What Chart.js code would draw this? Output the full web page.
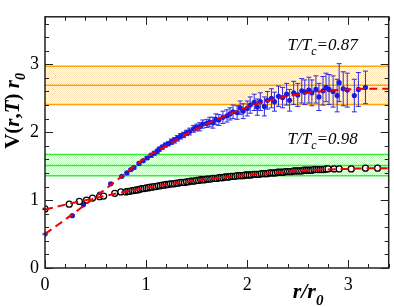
<!DOCTYPE html>
<html>
<head>
<meta charset="utf-8">
<script src="https://cdn.jsdelivr.net/npm/chart.js@4.4.1/dist/chart.umd.min.js"></script>
<style>
  html, body { margin: 0; padding: 0; background: #fff; }
  #wrap { width: 394px; height: 307px; }
</style>
</head>
<body>
<div id="wrap"><canvas id="pot"></canvas></div>
<script>
// T/Tc = 0.87 : lattice points (blue)
let blueR = [0.00, 0.27, 0.38, 0.54, 0.65, 0.76, 0.81, 0.85, 0.88, 0.93, 0.97, 1.01,
  1.05, 1.08, 1.11, 1.13, 1.16, 1.19, 1.22, 1.25, 1.28, 1.31, 1.34, 1.37, 1.40, 1.43,
  1.47, 1.50, 1.53, 1.56, 1.60, 1.63, 1.66, 1.69, 1.72, 1.76, 1.80, 1.83, 1.86, 1.90,
  1.93, 1.96, 2.00, 2.03, 2.07, 2.10, 2.13, 2.17, 2.20, 2.24, 2.27, 2.31, 2.35, 2.39,
  2.42, 2.46, 2.50, 2.54, 2.57, 2.61, 2.64, 2.68, 2.71, 2.75, 2.78, 2.81, 2.85, 2.89,
  2.91, 2.95, 2.99, 3.06, 3.10, 3.17];
let blueV = [0.50, 0.77, 0.93, 1.09, 1.24, 1.35, 1.40, 1.45, 1.48, 1.54, 1.58, 1.62,
  1.66, 1.69, 1.72, 1.75, 1.78, 1.81, 1.83, 1.86, 1.88, 1.91, 1.94, 1.96, 1.99, 2.01,
  2.05, 2.07, 2.08, 2.12, 2.13, 2.15, 2.14, 2.19, 2.18, 2.22, 2.24, 2.27, 2.30, 2.29,
  2.36, 2.31, 2.35, 2.40, 2.44, 2.37, 2.45, 2.38, 2.47, 2.50, 2.45, 2.53, 2.51, 2.56,
  2.47, 2.58, 2.55, 2.61, 2.59, 2.62, 2.58, 2.63, 2.52, 2.61, 2.66, 2.63, 2.60, 2.54,
  2.73, 2.64, 2.62, 2.54, 2.63, 2.66];
let blueErr = [0.01, 0.01, 0.01, 0.01, 0.01, 0.01, 0.015, 0.015, 0.02, 0.02, 0.02, 0.02,
  0.03, 0.03, 0.03, 0.03, 0.03, 0.03, 0.03, 0.04, 0.04, 0.04, 0.04, 0.04, 0.04, 0.05,
  0.05, 0.05, 0.06, 0.06, 0.06, 0.07, 0.08, 0.08, 0.08, 0.09, 0.09, 0.09, 0.10, 0.10,
  0.10, 0.11, 0.11, 0.12, 0.12, 0.12, 0.13, 0.14, 0.13, 0.14, 0.14, 0.15, 0.15, 0.16,
  0.16, 0.17, 0.17, 0.18, 0.18, 0.19, 0.19, 0.20, 0.20, 0.21, 0.21, 0.22, 0.23, 0.24,
  0.28, 0.25, 0.25, 0.24, 0.25, 0.24];

// T/Tc = 0.98 : lattice points (black, open)
let blackR = [0.00, 0.24, 0.34, 0.41, 0.47, 0.54, 0.58, 0.69, 0.75,
  0.80, 0.82, 0.84, 0.86, 0.88, 0.90, 0.92, 0.94, 0.96, 0.98, 1.00,
  1.02, 1.04, 1.06, 1.08, 1.10, 1.12, 1.14, 1.16, 1.18, 1.20,
  1.22, 1.24, 1.26, 1.28, 1.30, 1.32, 1.34, 1.36, 1.38, 1.40,
  1.42, 1.44, 1.46, 1.48, 1.50, 1.52, 1.54, 1.56, 1.58, 1.60,
  1.62, 1.64, 1.66, 1.68, 1.70, 1.72, 1.74, 1.76, 1.78, 1.80,
  1.82, 1.84, 1.86, 1.88, 1.90, 1.92, 1.94, 1.96, 1.98, 2.00,
  2.02, 2.04, 2.06, 2.08, 2.10, 2.12, 2.14, 2.16, 2.18, 2.20,
  2.22, 2.24, 2.26, 2.28, 2.30, 2.32, 2.34, 2.36, 2.38, 2.40,
  2.42, 2.44, 2.46, 2.48, 2.50, 2.52, 2.54, 2.56, 2.58, 2.60,
  2.62, 2.64, 2.66, 2.68, 2.70, 2.72, 2.74, 2.76, 2.78, 2.80,
  2.86, 2.91, 3.03, 3.17, 3.29];
let blackV = [0.87, 0.94, 0.98, 1.00, 1.03, 1.05, 1.06, 1.10, 1.12,
  1.12, 1.13, 1.13, 1.14, 1.14, 1.15, 1.15, 1.16, 1.17, 1.17, 1.18,
  1.18, 1.19, 1.19, 1.20, 1.20, 1.21, 1.21, 1.22, 1.22, 1.23,
  1.23, 1.24, 1.24, 1.24, 1.25, 1.25, 1.26, 1.26, 1.26, 1.27,
  1.27, 1.28, 1.28, 1.28, 1.29, 1.29, 1.30, 1.30, 1.30, 1.31,
  1.31, 1.31, 1.32, 1.32, 1.32, 1.33, 1.33, 1.33, 1.34, 1.34,
  1.34, 1.35, 1.35, 1.35, 1.36, 1.36, 1.36, 1.36, 1.37, 1.37,
  1.37, 1.37, 1.38, 1.38, 1.38, 1.38, 1.39, 1.39, 1.39, 1.39,
  1.40, 1.40, 1.40, 1.40, 1.41, 1.41, 1.41, 1.41, 1.42, 1.42,
  1.42, 1.42, 1.43, 1.43, 1.43, 1.43, 1.43, 1.44, 1.44, 1.44,
  1.44, 1.44, 1.45, 1.45, 1.45, 1.45, 1.45, 1.45, 1.46, 1.46,
  1.46, 1.46, 1.46, 1.47, 1.47];
let blackErr = [0.01, 0.01, 0.01, 0.01, 0.01, 0.01, 0.01, 0.01, 0.01,
  0.015, 0.015, 0.015, 0.015, 0.015, 0.015, 0.015, 0.015, 0.015, 0.015, 0.015,
  0.015, 0.015, 0.015, 0.015, 0.015, 0.015, 0.015, 0.015, 0.015, 0.015,
  0.02, 0.02, 0.02, 0.02, 0.02, 0.02, 0.02, 0.02, 0.02, 0.02,
  0.02, 0.02, 0.02, 0.02, 0.02, 0.02, 0.02, 0.02, 0.02, 0.02,
  0.02, 0.02, 0.02, 0.02, 0.02, 0.02, 0.02, 0.02, 0.02, 0.02,
  0.025, 0.025, 0.025, 0.025, 0.025, 0.025, 0.025, 0.025, 0.025, 0.025,
  0.025, 0.025, 0.025, 0.025, 0.025, 0.025, 0.025, 0.025, 0.025, 0.025,
  0.025, 0.025, 0.025, 0.025, 0.025, 0.025, 0.025, 0.025, 0.025, 0.025,
  0.03, 0.03, 0.03, 0.03, 0.03, 0.03, 0.03, 0.03, 0.03, 0.03,
  0.03, 0.03, 0.03, 0.03, 0.03, 0.03, 0.03, 0.03, 0.03, 0.03,
  0.035, 0.035, 0.035, 0.035, 0.035];

// red dashed fits
let fitBlueR = [0.00, 0.27, 0.50, 0.75, 1.00, 1.20, 1.40, 1.60, 1.80, 2.00, 2.20, 2.40, 2.60, 2.80, 3.00, 3.20, 3.40];
let fitBlueV = [0.50, 0.79, 1.05, 1.34, 1.63, 1.80, 1.97, 2.12, 2.25, 2.37, 2.46, 2.53, 2.58, 2.61, 2.63, 2.64, 2.64];
let fitBlackR = [0.00, 0.25, 0.50, 0.75, 1.00, 1.25, 1.50, 1.75, 2.00, 2.25, 2.50, 2.75, 3.00, 3.25, 3.40];
let fitBlackV = [0.86, 0.95, 1.03, 1.11, 1.18, 1.24, 1.29, 1.33, 1.37, 1.40, 1.43, 1.45, 1.46, 1.47, 1.47];

// asymptotic bands: [low, central, high]
let orangeBand = [2.41, 2.69, 2.97];
let greenBand = [1.36, 1.51, 1.67];

let xRange = [0, 3.4];
let yRange = [0, 3.7];
let tickLabels = ["0", "1", "2", "3"];

function pts(xs, ys) {
  return xs.map((x, i) => ({ x: x, y: ys[i] }));
}

function flat(v) {
  return [{ x: xRange[0], y: v }, { x: xRange[1], y: v }];
}

function dotPattern(color) {
  let c = document.createElement("canvas");
  c.width = 2;
  c.height = 2;
  let g = c.getContext("2d");
  g.fillStyle = color;
  g.fillRect(0, 0, 1, 1);
  g.fillRect(1, 1, 1, 1);
  return g.createPattern(c, "repeat");
}

const ORANGE = "#ffa500";
const GREEN = "#33ee33";
const serif = "'Liberation Serif', 'DejaVu Serif', serif";

function bandSets(band, color, fillColor) {
  return [
    { data: flat(band[0]), borderColor: color, borderWidth: 1.5, pointRadius: 0, fill: false, order: 20 },
    { data: flat(band[2]), borderColor: color, borderWidth: 1.5, pointRadius: 0, fill: "-1",
      backgroundColor: dotPattern(fillColor), order: 20 },
    { data: flat(band[1]), borderColor: color, borderWidth: 1.5, pointRadius: 0, fill: false, order: 19 },
  ];
}

// error bars drawn just before the markers of a dataset
const errorBars = {
  id: "errorBars",
  beforeDatasetDraw(chart, args) {
    let ds = chart.data.datasets[args.index];
    if (!ds.errors) return;
    let ctx = chart.ctx;
    let xs = chart.scales.x, ys = chart.scales.y;
    ctx.save();
    ctx.strokeStyle = ds.errorColor;
    ctx.lineWidth = 1;
    ds.data.forEach((p, i) => {
      let px = xs.getPixelForValue(p.x);
      let top = ys.getPixelForValue(p.y + ds.errors[i]);
      let bot = ys.getPixelForValue(p.y - ds.errors[i]);
      ctx.beginPath();
      ctx.moveTo(px, top); ctx.lineTo(px, bot);
      ctx.moveTo(px - 2.5, top); ctx.lineTo(px + 2.5, top);
      ctx.moveTo(px - 2.5, bot); ctx.lineTo(px + 2.5, bot);
      ctx.stroke();
    });
    ctx.restore();
  },
};

function drawRuns(ctx, runs, x, y) {
  let cx = x;
  for (let r of runs) {
    ctx.font = r[1];
    ctx.fillText(r[0], cx, y + (r[2] || 0));
    cx += ctx.measureText(r[0]).width;
  }
}

// frame, inward ticks on all four sides, titles and labels
const decorations = {
  id: "decorations",
  afterDraw(chart) {
    let ctx = chart.ctx;
    let a = chart.chartArea;
    let xs = chart.scales.x, ys = chart.scales.y;
    ctx.save();
    ctx.strokeStyle = "#222";
    ctx.lineWidth = 1.5;
    ctx.strokeRect(a.left, a.top, a.right - a.left, a.bottom - a.top);
    ctx.lineWidth = 1;
    ctx.beginPath();
    for (let i = 0; i * 0.2 <= xRange[1] + 1e-9; i++) {
      let px = Math.round(xs.getPixelForValue(i * 0.2)) + 0.5;
      let len = i % 5 === 0 ? 8 : 4;
      ctx.moveTo(px, a.bottom); ctx.lineTo(px, a.bottom - len);
      ctx.moveTo(px, a.top); ctx.lineTo(px, a.top + len);
    }
    for (let i = 0; i * 0.2 <= yRange[1] + 1e-9; i++) {
      let py = Math.round(ys.getPixelForValue(i * 0.2)) + 0.5;
      let len = i % 5 === 0 ? 8 : 4;
      ctx.moveTo(a.left, py); ctx.lineTo(a.left + len, py);
      ctx.moveTo(a.right, py); ctx.lineTo(a.right - len, py);
    }
    ctx.stroke();

    ctx.fillStyle = "#000";
    ctx.textBaseline = "alphabetic";
    ctx.textAlign = "left";
    // curve labels
    let lab = (val, x, y) => drawRuns(ctx, [
      ["T/T", "italic 17px " + serif],
      ["c", "italic 12px " + serif, 5],
      ["=" + val, "italic 17px " + serif],
    ], xs.getPixelForValue(x), ys.getPixelForValue(y));
    lab("0.87", 2.40, 3.21);
    lab("0.98", 2.40, 1.82);

    // x title
    drawRuns(ctx, [
      ["r/r", "italic bold 22px " + serif],
      ["0", "italic bold 15px " + serif, 7],
    ], a.right - 96, a.bottom + 30);

    // y title
    ctx.translate(19, a.top + 132);
    ctx.rotate(-Math.PI / 2);
    drawRuns(ctx, [
      ["V(", "bold 21px " + serif],
      ["r", "italic bold 21px " + serif],
      [",", "bold 21px " + serif],
      ["T", "italic bold 21px " + serif],
      [") ", "bold 21px " + serif],
      ["r", "italic bold 21px " + serif],
      ["0", "italic bold 14px " + serif, 6],
    ], 0, 0);
    ctx.restore();
  },
};

let pot = document.getElementById("pot").getContext("2d");

let potChart = new Chart(pot, {
  type: "line",
  data: {
    datasets: [
      ...bandSets(orangeBand, ORANGE, "rgba(255,170,40,0.33)"),
      ...bandSets(greenBand, GREEN, "rgba(40,230,40,0.28)"),
      {
        data: pts(blueR, blueV),
        errors: blueErr,
        errorColor: "#2a2ae6",
        showLine: false,
        pointRadius: 2.6,
        pointBackgroundColor: "#1a1ae0",
        pointBorderColor: "#1a1ae0",
        pointBorderWidth: 0,
        order: 5,
      },
      {
        data: pts(blackR, blackV),
        errors: blackErr,
        errorColor: "#000",
        showLine: false,
        pointRadius: 3,
        pointBackgroundColor: "#fff",
        pointBorderColor: "#000",
        pointBorderWidth: 1.3,
        order: 4,
      },
      {
        data: pts(fitBlueR, fitBlueV),
        borderColor: "#f00000",
        borderWidth: 2,
        borderDash: [8, 5],
        pointRadius: 0,
        cubicInterpolationMode: "monotone",
        order: 1,
      },
      {
        data: pts(fitBlackR, fitBlackV),
        borderColor: "#f00000",
        borderWidth: 2,
        borderDash: [8, 5],
        pointRadius: 0,
        cubicInterpolationMode: "monotone",
        order: 1,
      },
    ],
  },
  options: {
    responsive: true,
    maintainAspectRatio: false,
    animation: false,
    events: [],
    layout: { padding: { left: 0, right: 3, top: 3, bottom: 0 } },
    plugins: {
      legend: { display: false },
      tooltip: { enabled: false },
    },
    scales: {
      x: {
        type: "linear",
        min: xRange[0],
        max: xRange[1],
        grid: { display: false, drawTicks: false },
        border: { display: false },
        ticks: {
          stepSize: 1,
          includeBounds: false,
          autoSkip: false,
          maxRotation: 0,
          padding: 6,
          color: "#000",
          font: { family: serif, size: 18 },
          callback: (v) => tickLabels[v],
        },
        afterFit: (s) => { s.height = 39; },
      },
      y: {
        type: "linear",
        min: yRange[0],
        max: yRange[1],
        grid: { display: false, drawTicks: false },
        border: { display: false },
        ticks: {
          stepSize: 1,
          includeBounds: false,
          padding: 6,
          color: "#000",
          font: { family: serif, size: 18 },
          callback: (v) => tickLabels[v],
        },
        afterFit: (s) => { s.width = 45; },
      },
    },
  },
  plugins: [errorBars, decorations],
});
</script>
</body>
</html>
